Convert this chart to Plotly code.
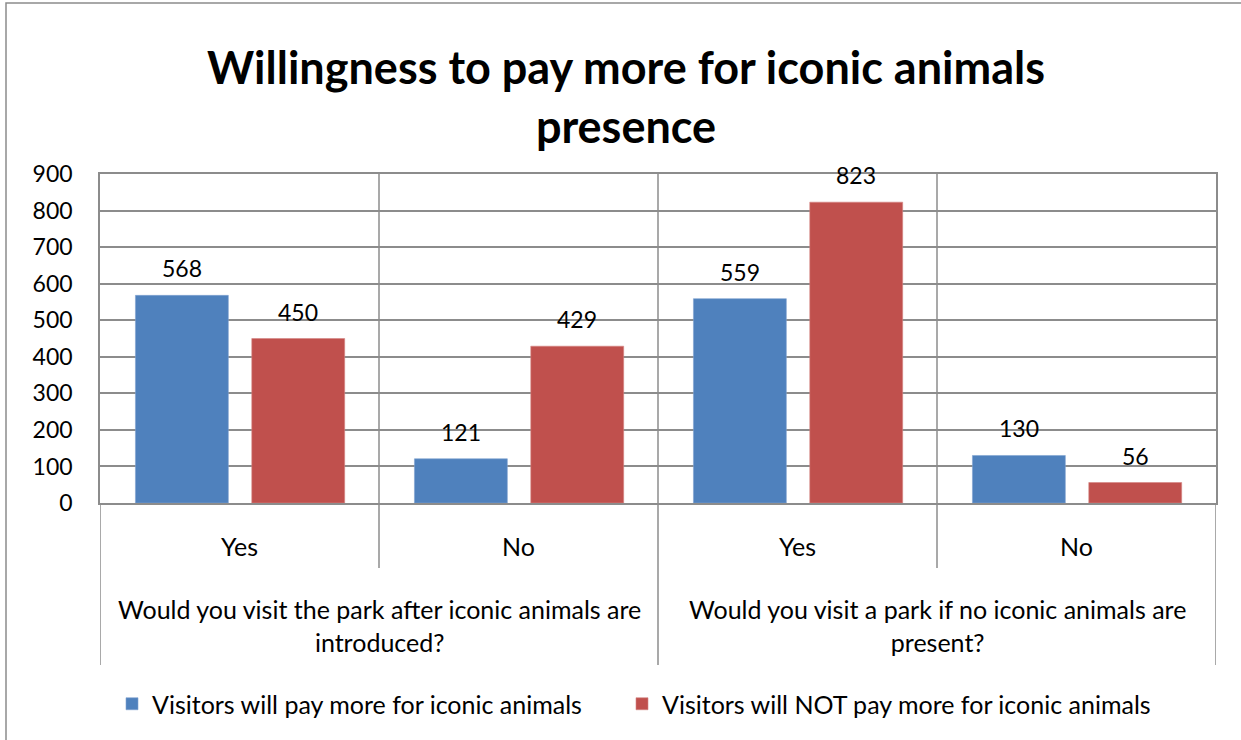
import plotly.graph_objects as go

# Survey answers (inner category level) and question groups (outer level)
answers = ["Yes", "No", "Yes", "No"]
questions = [
    "Would you visit the park after iconic animals are<br>introduced?",
    "Would you visit a park if no iconic animals are<br>present?",
]
series_names = [
    "Visitors will pay more for iconic animals",
    "Visitors will NOT pay more for iconic animals",
]
pay_more = [568, 121, 559, 130]
not_pay_more = [450, 429, 823, 56]
y_ticks = [0, 100, 200, 300, 400, 500, 600, 700, 800, 900]

BLUE = "#4F81BD"
RED = "#C0504D"
GRID = "#8C8C8C"
FONT = "Lato"
TXT = 25
NUM = 23

W, H = 1241, 740
ML, MR, MT, MB = 100, 25, 174, 237
PH = H - MT - MB  # plot height in px


def py(px):
    """Page y pixel -> paper y."""
    return (H - MB - px) / PH


def pxx(px):
    """Page x pixel -> paper x."""
    return (px - ML) / (W - ML - MR)


xpos = list(range(len(answers)))
bar_w = 0.333
offsets = (-0.373, 0.044)

fig = go.Figure()
fig.add_trace(go.Bar(
    x=xpos, y=pay_more, name=series_names[0], marker_color=BLUE,
    marker_line=dict(color="#7FA3D0", width=0.6),
    width=bar_w, offset=offsets[0], legend="legend",
))
fig.add_trace(go.Bar(
    x=xpos, y=not_pay_more, name=series_names[1], marker_color=RED,
    marker_line=dict(color="#D48583", width=0.6),
    width=bar_w, offset=offsets[1], legend="legend2",
))

annotations = []
# value labels above bars
for vals, off in ((pay_more, offsets[0]), (not_pay_more, offsets[1])):
    for x, v in zip(xpos, vals):
        annotations.append(dict(
            x=x + off + bar_w / 2, y=v, xref="x", yref="y", text=str(v),
            showarrow=False, yanchor="middle", yshift=27,
            font=dict(family=FONT, size=NUM, color="#000000"),
        ))

# outer category labels (question groups)
for gi, text in enumerate(questions):
    annotations.append(dict(
        x=gi * 2 + 0.5, y=py(625.5), xref="x", yref="paper", text=text,
        showarrow=False, xanchor="center", yanchor="middle",
        font=dict(family=FONT, size=TXT, color="#000000"),
    ))

shapes = []
# category separators running through the plot and label area
for xb, top_px, bot_px in ((-0.5, 503, 665), (0.5, 174, 568), (1.5, 174, 665),
                           (2.5, 174, 568), (3.5, 503, 665)):
    shapes.append(dict(
        type="line", xref="x", yref="paper", x0=xb, x1=xb,
        y0=py(bot_px), y1=py(top_px), layer="below",
        line=dict(color=GRID, width=1.5),
    ))
# outer chart border
shapes.append(dict(
    type="rect", xref="paper", yref="paper",
    x0=pxx(6), x1=pxx(1260), y0=py(760), y1=py(3),
    line=dict(color=GRID, width=1.5), layer="below",
))

legend_style = dict(
    orientation="h", yanchor="middle", xanchor="left", y=py(704),
    font=dict(family=FONT, size=TXT, color="#000000"),
    itemwidth=30, bgcolor="rgba(0,0,0,0)",
)

fig.update_layout(
    width=W, height=H,
    margin=dict(l=ML, r=MR, t=MT, b=MB, pad=0),
    paper_bgcolor="white", plot_bgcolor="white",
    barmode="overlay",
    title=dict(
        text="<b>Willingness to pay more for iconic animals<br>presence</b>",
        x=626 / W, y=1 - 84 / H, xref="container", yref="container",
        xanchor="center", yanchor="middle",
        font=dict(family=FONT, size=45, color="#000000"),
    ),
    showlegend=True,
    legend=dict(legend_style, x=pxx(112)),
    legend2=dict(legend_style, x=pxx(622)),
    font=dict(family=FONT, size=TXT, color="#000000"),
    annotations=annotations,
    shapes=shapes,
    xaxis=dict(
        range=[-0.5, 3.5], tickvals=xpos, ticktext=answers,
        showgrid=False, zeroline=False, showline=True, mirror=True,
        linecolor=GRID, linewidth=1.5, ticks="",
        ticklabelstandoff=21,
        tickfont=dict(family=FONT, size=TXT, color="#000000"),
        fixedrange=True,
    ),
    yaxis=dict(
        range=[0, 900], tickvals=y_ticks,
        showgrid=True, gridcolor=GRID, gridwidth=1.5,
        zeroline=False, showline=True, mirror=True,
        linecolor=GRID, linewidth=1.5, ticks="",
        ticklabelstandoff=21,
        tickfont=dict(family=FONT, size=NUM, color="#000000"),
        fixedrange=True,
    ),
)

fig.write_html("out.html")
